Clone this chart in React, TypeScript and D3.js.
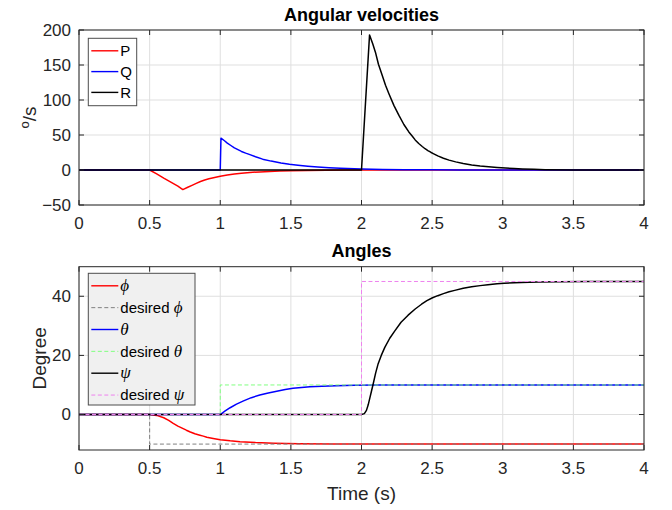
import React from 'react';
import * as d3 from 'd3';

// time ticks shared by both panels
const timeTicks = [0, 0.5, 1, 1.5, 2, 2.5, 3, 3.5, 4];
const velTicks = [-50, 0, 50, 100, 150, 200];
const angTicks = [0, 20, 40];

// Angular velocities (deg/s)
const pTime = [0, 0.5, 0.55, 0.6, 0.65, 0.7, 0.735, 0.77, 0.8, 0.83, 0.86, 0.89, 0.92, 0.96, 1.0, 1.05, 1.1, 1.15, 1.21, 1.28, 1.35, 1.42, 1.5, 1.62, 1.75, 1.9, 2.0, 4.0];
const pVal = [0, 0, -5.5, -11.5, -17.2, -23, -28, -24.7, -22, -19.2, -16.5, -14.3, -12.5, -10.6, -9, -7.3, -5.8, -4.6, -3.5, -2.7, -2, -1.5, -1, -0.6, -0.3, -0.1, 0, 0];

const qTime = [0, 1.0, 1.005, 1.03, 1.05, 1.075, 1.1, 1.125, 1.15, 1.18, 1.21, 1.25, 1.3, 1.36, 1.43, 1.49, 1.55, 1.62, 1.69, 1.77, 1.85, 2.0, 2.15, 2.3, 2.5, 2.7, 3.2, 4];
const qVal = [0, 0, 45.5, 41.8, 38.5, 35, 31.5, 29, 26.5, 24.1, 21.9, 18.9, 15.5, 12.7, 10, 8.2, 6.8, 5.4, 4.3, 3.2, 2.4, 1.3, 0.8, 0.5, 0.25, 0.1, 0, 0];

const rTime = [0, 2.0, 2.057, 2.08, 2.099, 2.12, 2.147, 2.17, 2.194, 2.23, 2.265, 2.3, 2.335, 2.36, 2.38, 2.405, 2.43, 2.45, 2.47, 2.49, 2.508, 2.54, 2.58, 2.62, 2.667, 2.72, 2.78, 2.84, 2.9, 2.96, 3.02, 3.08, 3.14, 3.22, 3.3, 3.5, 4];
const rVal = [0, 0, 193, 180, 168, 151, 135, 121, 109, 92, 78, 65, 54.4, 48.2, 43, 37.8, 33.6, 30.4, 27.7, 25.4, 23.5, 20.1, 16.8, 14.1, 11.6, 9.3, 7.3, 5.8, 4.6, 3.6, 2.7, 2, 1.4, 0.9, 0.5, 0.15, 0];

// Angles (deg)
const phiTime = [0, 0.5, 0.55, 0.6, 0.635, 0.667, 0.7, 0.73, 0.76, 0.788, 0.82, 0.85, 0.88, 0.905, 0.95, 1.0, 1.07, 1.14, 1.25, 1.377, 1.47, 1.56, 1.8, 2.2, 4];
const phiVal = [0, 0, -0.3, -1.1, -2.0, -3.0, -3.9, -4.6, -5.3, -5.9, -6.5, -6.9, -7.3, -7.7, -8.1, -8.5, -8.9, -9.2, -9.5, -9.7, -9.8, -9.85, -9.95, -10, -10];
const phiDesTime = [0, 0.5, 0.5, 4];
const phiDesVal = [0, 0, -10, -10];

const thetaTime = [0, 1.0, 1.035, 1.07, 1.115, 1.165, 1.22, 1.28, 1.34, 1.4, 1.46, 1.515, 1.575, 1.635, 1.72, 1.82, 1.95, 2.1, 2.3, 2.5, 4];
const thetaVal = [0, 0, 1.2, 2.3, 3.5, 4.6, 5.7, 6.6, 7.3, 7.9, 8.45, 8.85, 9.15, 9.4, 9.6, 9.75, 9.87, 9.95, 9.98, 10, 10];
const thetaDesTime = [0, 1.0, 1.0, 4];
const thetaDesVal = [0, 0, 10, 10];

const psiTime = [0, 2.0, 2.02, 2.035, 2.047, 2.058, 2.07, 2.083, 2.1, 2.118, 2.14, 2.165, 2.2, 2.236, 2.28, 2.33, 2.38, 2.425, 2.463, 2.503, 2.54, 2.58, 2.62, 2.66, 2.72, 2.78, 2.84, 2.895, 2.96, 3.01, 3.13, 3.25, 3.4, 3.6, 4];
const psiVal = [0, 0, 0.3, 1.4, 3.2, 5.4, 7.8, 10.4, 14, 17.2, 20.0, 22.7, 25.8, 28.3, 31.2, 33.6, 35.7, 37.3, 38.5, 39.5, 40.2, 40.9, 41.5, 42, 42.7, 43.2, 43.6, 43.9, 44.2, 44.4, 44.65, 44.8, 44.9, 45, 45];
const psiDesTime = [0, 2.0, 2.0, 4];
const psiDesVal = [0, 0, 45, 45];

const velNames = ['P', 'Q', 'R'];
const angNames = ['ϕ', 'desired ϕ', 'θ', 'desired θ', 'ψ', 'desired ψ'];

const W = 672;
const H = 510;
const LEFT = 79;
const RIGHT = 644;
const AX = '#262626';
const GRID = '#dfdfdf';
const SANS = '"Liberation Sans", Arial, Helvetica, sans-serif';
const SERIF = '"Liberation Serif", "DejaVu Serif", serif';
const fmt = d3.format('');

type Series = { t: number[]; v: number[]; color: string; dash?: string; width: number };

const zip = (t: number[], v: number[]) => t.map((x, i) => [x, v[i]] as [number, number]);

// label that may end in a greek letter, drawn in italic serif like LaTeX
const LegendText = ({ label, x, y }: { label: string; x: number; y: number }) => {
  const last = label.slice(-1);
  const greek = /[ϕθψ]/.test(last);
  const head = greek ? label.slice(0, -1) : label;
  return (
    <text x={x} y={y} dy="0.35em" fontSize={15} fontFamily={SANS} fill="#000">
      {head && <tspan>{head}</tspan>}
      {greek && (
        <tspan fontFamily={SERIF} fontStyle="italic" fontSize={17}>
          {last}
        </tspan>
      )}
    </text>
  );
};

const Legend = ({ x, y, w, h, names, series, rowH, bg }: { x: number; y: number; w: number; h: number; names: string[]; series: Series[]; rowH: number; bg: string }) => (
  <g>
    <rect x={x} y={y} width={w} height={h} fill={bg} stroke="#4d4d4d" strokeWidth={1} />
    {names.map((n, i) => {
      const cy = y + 12.5 + i * rowH;
      const s = series[i];
      return (
        <g key={n}>
          <line x1={x + 3} x2={x + 30} y1={cy} y2={cy} stroke={s.color} strokeWidth={s.dash ? 1 : 1.4} strokeDasharray={s.dash} />
          <LegendText label={n} x={x + 32} y={cy} />
        </g>
      );
    })}
  </g>
);

const Panel = ({ top, bottom, yDomain, yTicks, series, title, yLabel, id, children }: any) => {
  const x = d3.scaleLinear().domain([0, 4]).range([LEFT, RIGHT]);
  const y = d3.scaleLinear().domain(yDomain).range([bottom, top]);
  const line = d3
    .line<[number, number]>()
    .x((d) => x(d[0]))
    .y((d) => y(d[1]))
    .curve(d3.curveLinear);
  const tl = 5;
  return (
    <g>
      <defs>
        <clipPath id={id}>
          <rect x={LEFT} y={top} width={RIGHT - LEFT} height={bottom - top} />
        </clipPath>
      </defs>
      <rect x={LEFT} y={top} width={RIGHT - LEFT} height={bottom - top} fill="#fff" />
      {timeTicks.map((t) => (
        <line key={'gx' + t} x1={x(t)} x2={x(t)} y1={top} y2={bottom} stroke={GRID} strokeWidth={1} />
      ))}
      {yTicks.map((v: number) => (
        <line key={'gy' + v} x1={LEFT} x2={RIGHT} y1={y(v)} y2={y(v)} stroke={GRID} strokeWidth={1} />
      ))}
      <g clipPath={`url(#${id})`}>
        {series.map((s: Series, i: number) => (
          <path key={i} d={line(zip(s.t, s.v)) || ''} fill="none" stroke={s.color} strokeWidth={s.width} strokeDasharray={s.dash} strokeLinejoin="round" />
        ))}
      </g>
      <rect x={LEFT} y={top} width={RIGHT - LEFT} height={bottom - top} fill="none" stroke={AX} strokeWidth={1} />
      {timeTicks.map((t) => (
        <g key={'tx' + t}>
          <line x1={x(t)} x2={x(t)} y1={bottom} y2={bottom - tl} stroke={AX} />
          <line x1={x(t)} x2={x(t)} y1={top} y2={top + tl} stroke={AX} />
          <text x={x(t)} y={bottom + 24} textAnchor="middle" fontSize={17} fontFamily={SANS} fill={AX}>
            {fmt(t)}
          </text>
        </g>
      ))}
      {yTicks.map((v: number) => (
        <g key={'ty' + v}>
          <line x1={LEFT} x2={LEFT + tl} y1={y(v)} y2={y(v)} stroke={AX} />
          <line x1={RIGHT} x2={RIGHT - tl} y1={y(v)} y2={y(v)} stroke={AX} />
          <text x={LEFT - 8} y={y(v)} dy="0.35em" textAnchor="end" fontSize={17} fontFamily={SANS} fill={AX}>
            {fmt(v)}
          </text>
        </g>
      ))}
      <text x={(LEFT + RIGHT) / 2} y={top - 9.5} textAnchor="middle" fontSize={18} fontWeight="bold" fontFamily={SANS} fill="#000">
        {title}
      </text>
      {yLabel}
      {children}
    </g>
  );
};

export default function App() {
  const velSeries: Series[] = [
    { t: pTime, v: pVal, color: '#ff0000', width: 1.5 },
    { t: qTime, v: qVal, color: '#0000ff', width: 1.5 },
    { t: rTime, v: rVal, color: '#000000', width: 1.5 },
  ];
  const angSeries: Series[] = [
    { t: phiTime, v: phiVal, color: '#ff0000', width: 1.5 },
    { t: phiDesTime, v: phiDesVal, color: '#808080', width: 1, dash: '4,2.5' },
    { t: thetaTime, v: thetaVal, color: '#0000ff', width: 1.5 },
    { t: thetaDesTime, v: thetaDesVal, color: '#80ff80', width: 1, dash: '4,2.5' },
    { t: psiTime, v: psiVal, color: '#000000', width: 1.5 },
    { t: psiDesTime, v: psiDesVal, color: '#ee82ee', width: 1, dash: '4,2.5' },
  ];
  const velTop = 30;
  const velBottom = 205;
  const angTop = 266.7;
  const angBottom = 450;
  return (
    <svg width={W} height={H} style={{ position: 'absolute', left: 0, top: 0, background: '#fff' }}>
      <rect width={W} height={H} fill="#fff" />
      <Panel
        id="clipVel"
        top={velTop}
        bottom={velBottom}
        yDomain={[-50, 200]}
        yTicks={velTicks}
        series={velSeries}
        title="Angular velocities"
        yLabel={
          <text transform={`translate(36,${(velTop + velBottom) / 2}) rotate(-90)`} textAnchor="middle" fontSize={19} fontFamily={SANS} fill={AX}>
            <tspan fontSize={13} dy={-7}>o</tspan>
            <tspan dy={7}>/s</tspan>
          </text>
        }
      >
        <Legend x={88.3} y={38.3} w={48.4} h={67.4} names={velNames} series={velSeries} rowH={20.8} bg="#fff" />
      </Panel>
      <Panel
        id="clipAng"
        top={angTop}
        bottom={angBottom}
        yDomain={[-12, 50]}
        yTicks={angTicks}
        series={angSeries}
        title="Angles"
        yLabel={
          <text transform={`translate(46,${(angTop + angBottom) / 2}) rotate(-90)`} textAnchor="middle" fontSize={19} fontFamily={SANS} fill={AX}>
            Degree
          </text>
        }
      >
        <Legend x={88.3} y={273.3} w={106.7} h={131.7} names={angNames} series={angSeries} rowH={21.85} bg="#f0f0f0" />
      </Panel>
      <text x={(LEFT + RIGHT) / 2} y={500} textAnchor="middle" fontSize={19} fontFamily={SANS} fill={AX}>
        Time (s)
      </text>
    </svg>
  );
}
